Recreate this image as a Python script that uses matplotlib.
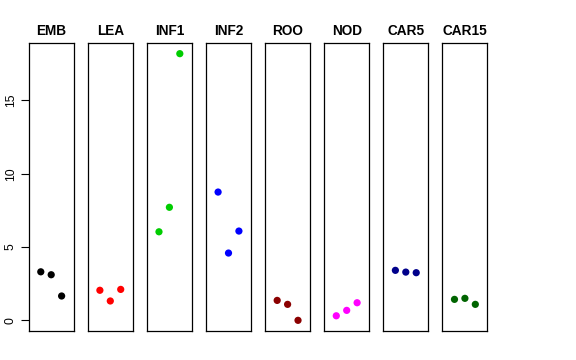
import numpy as np
from matplotlib import pyplot as plt

plt.rcParams['font.family'] = ['Liberation Sans', 'DejaVu Sans']

tissues = ['EMB', 'LEA', 'INF1', 'INF2', 'ROO', 'NOD', 'CAR5', 'CAR15']
colors = ['black', 'red', '#00CD00', 'blue', '#8B0000', 'magenta', '#00008B', '#006400']

emb = [3.31, 3.11, 1.66]
lea = [2.05, 1.32, 2.11]
inf1 = [6.04, 7.71, 18.19]
inf2 = [8.75, 4.59, 6.09]
roo = [1.36, 1.09, 0.0]
nod = [0.31, 0.68, 1.20]
car5 = [3.41, 3.29, 3.25]
car15 = [1.43, 1.50, 1.09]
values = [emb, lea, inf1, inf2, roo, nod, car5, car15]
reps = [1, 2, 3]

W, H = 576, 360
fig = plt.figure(figsize=(W/100, H/100), dpi=100)

allv = np.concatenate(values)
rng = allv.max() - allv.min()
ylim = (allv.min() - 0.04*rng, allv.max() + 0.04*rng)

left0 = 28.7
step = 59.1
pw = 45
top = 43
bottom = 331

for i, (name, vals, c) in enumerate(zip(tissues, values, colors)):
  x0 = left0 + step*i
  ax = fig.add_axes([x0/W, 1 - bottom/H, pw/W, (bottom - top)/H])
  ax.scatter(reps, vals, color=c, s=27, edgecolors='none', zorder=3)
  ax.set_xlim(-0.16, 4.16)
  ax.set_ylim(*ylim)
  ax.set_xticks([])
  ax.set_title(name, fontsize=9.8, fontweight='bold', pad=6)
  for sp in ax.spines.values():
    sp.set_linewidth(0.9)
  if i == 0:
    ax.set_yticks([0, 5, 10, 15])
    ax.tick_params(axis='y', length=5.5, width=0.8, labelsize=8.8, pad=3)
    for lab in ax.get_yticklabels():
      lab.set_rotation(90)
      lab.set_va('center')
  else:
    ax.set_yticks([])

fig.savefig('out.png', dpi=100)
